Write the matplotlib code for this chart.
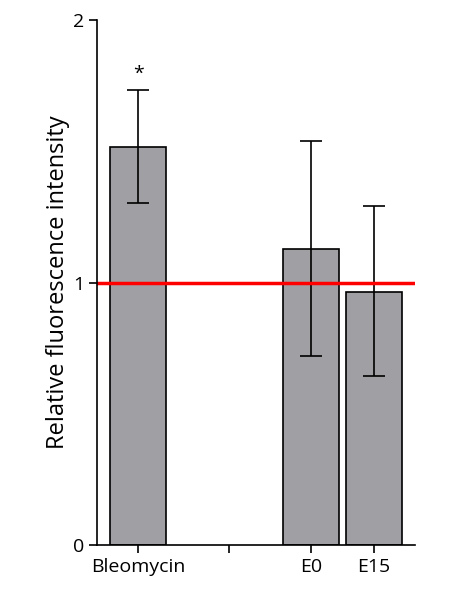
import matplotlib.pyplot as plt

plt.rcParams["font.family"] = ["Open Sans", "DejaVu Sans"]

labels = ["Bleomycin", "E0", "E15"]
positions = [0, 2.75, 3.75]
values = [1.517, 1.129, 0.966]
err_low = [1.304, 0.722, 0.646]
err_high = [1.734, 1.54, 1.293]

yerr = [[v - lo for v, lo in zip(values, err_low)],
        [hi - v for v, hi in zip(values, err_high)]]

fig = plt.figure(figsize=(4.74, 5.92), dpi=100)
ax = fig.add_axes([0.205, 0.079, 0.67, 0.887])
ax.bar(positions, values, width=0.9, color="#a0a0a4", edgecolor="black",
       linewidth=1.2, yerr=yerr, capsize=8, error_kw={"elinewidth": 1.2, "capthick": 1.2})
ax.axhline(1, color="red", linewidth=2.5)
ax.text(positions[0], 1.76, "*", ha="center", va="bottom", fontsize=14)

ax.set_xlim(-0.65, 4.4)
ax.set_ylim(0, 2)
ax.set_yticks([0, 1, 2])
ax.set_xticks(positions + [1.45])
ax.set_xticklabels(labels + [""], fontsize=14)
ax.tick_params(axis="y", labelsize=14, width=1.2, length=6)
ax.tick_params(axis="x", width=1.2, length=6)
ax.set_ylabel("Relative fluorescence intensity", fontsize=17, labelpad=2)
for s in ["top", "right"]:
    ax.spines[s].set_visible(False)
for s in ["left", "bottom"]:
    ax.spines[s].set_linewidth(1.2)

fig.savefig("out.png", dpi=100)
